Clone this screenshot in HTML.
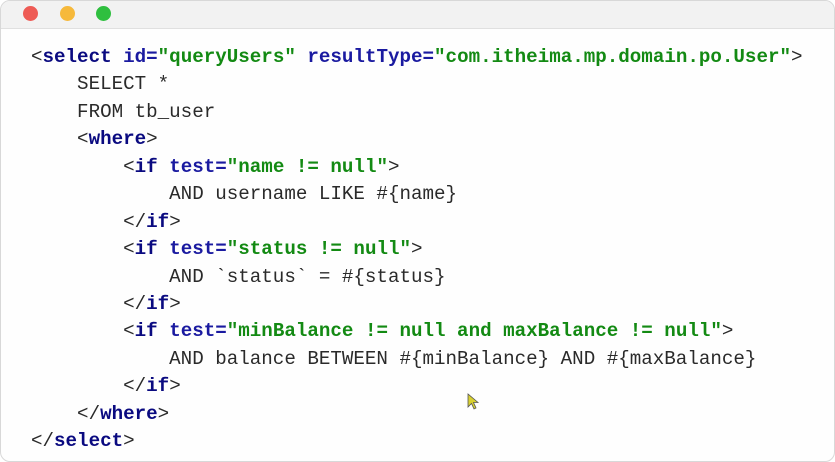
<!DOCTYPE html>
<html><head><meta charset="utf-8"><style>
html,body{margin:0;padding:0;width:835px;height:462px;overflow:hidden;background:#fff;}
.win{position:absolute;left:0;top:0;width:833px;height:460px;border:1px solid #d8d8d8;border-radius:10px;overflow:hidden;background:#fefefe;}
.bar{position:absolute;left:0;top:0;width:100%;height:27px;background:#f2f2f2;border-bottom:1px solid #e0e0e0;}
.dot{position:absolute;top:5px;width:15px;height:15px;border-radius:50%;}
pre{position:absolute;left:30px;top:43px;margin:0;font-family:"Liberation Mono",monospace;font-size:19.2px;line-height:27.43px;color:#2a2a2a;}
.t{color:#0a0a80;font-weight:bold}
.a{color:#1a1aa0;font-weight:bold}
.v{color:#138a13;font-weight:bold}
</style></head><body>
<div class="win">
<div class="bar">
<div class="dot" style="left:22px;background:#ee5b55"></div>
<div class="dot" style="left:59px;background:#f6b93b"></div>
<div class="dot" style="left:95px;background:#2fbf3f"></div>
</div>
<pre>&lt;<span class="t">select</span> <span class="a">id=</span><span class="v">"queryUsers"</span> <span class="a">resultType=</span><span class="v">"com.itheima.mp.domain.po.User"</span>&gt;
    SELECT *
    FROM tb_user
    &lt;<span class="t">where</span>&gt;
        &lt;<span class="t">if</span> <span class="a">test=</span><span class="v">"name != null"</span>&gt;
            AND username LIKE #{name}
        &lt;/<span class="t">if</span>&gt;
        &lt;<span class="t">if</span> <span class="a">test=</span><span class="v">"status != null"</span>&gt;
            AND `status` = #{status}
        &lt;/<span class="t">if</span>&gt;
        &lt;<span class="t">if</span> <span class="a">test=</span><span class="v">"minBalance != null and maxBalance != null"</span>&gt;
            AND balance BETWEEN #{minBalance} AND #{maxBalance}
        &lt;/<span class="t">if</span>&gt;
    &lt;/<span class="t">where</span>&gt;
&lt;/<span class="t">select</span>&gt;</pre>
<svg style="position:absolute;left:466px;top:392px" width="14" height="18"><path d="M1 1 L1 14 L4.5 10.5 L7 16 L9 15 L6.5 9.5 L11 9.5 Z" fill="#d8d030" stroke="#555" stroke-width="0.8"/></svg>
</div>
</body></html>
